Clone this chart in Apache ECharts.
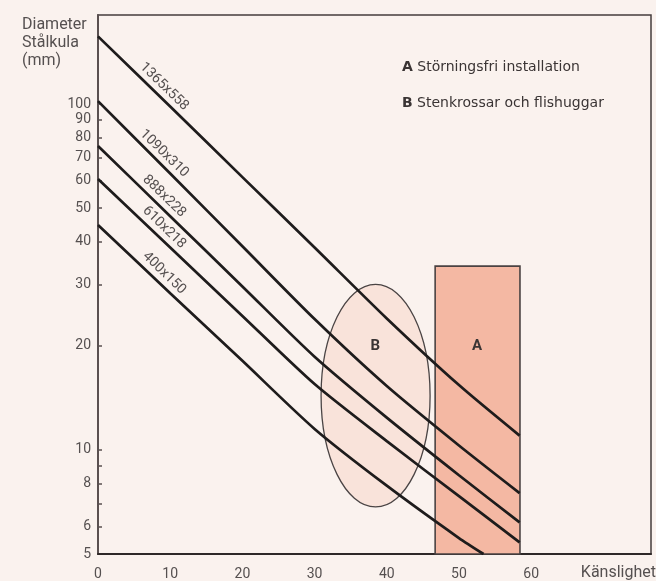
<!DOCTYPE html>
<html><head><meta charset="utf-8">
<script src="https://cdn.jsdelivr.net/npm/echarts@6/dist/echarts.min.js"></script>
<style>html,body{margin:0;padding:0;background:#faf2ee;}#c{width:656px;height:581px;}</style>
</head><body><div id="c"></div>
<script>
// Känslighet (x) sample positions
const sensitivity = [0, 10, 20, 30, 40, 50, 58.4];
const sensitivity400 = [0, 10, 20, 30, 40, 50, 53.4];
// Diameter stålkula (mm) per detector size
const d1365x558 = [157, 98.4, 61.5, 38.5, 24.0, 15.4, 11.0];
const d1090x310 = [102, 63.0, 38.8, 23.9, 15.3, 10.3, 7.5];
const d888x228  = [75.7, 47.4, 29.7, 18.6, 12.4, 8.45, 6.17];
const d610x218  = [60.7, 38.5, 24.4, 15.5, 10.6, 7.35, 5.40];
const d400x150  = [44.7, 28.4, 18.1, 11.5, 7.88, 5.56, 5.0];
const lineNames = ['1365x558', '1090x310', '888x228', '610x218', '400x150'];
// zones
const zoneA = [46.7, 58.45, 5, 34];      // x0, x1, y0, y1
const zoneB = [30.9, 46.0, 6.84, 30.1];  // ellipse bounding box
const zoneLabels = [['A', 52.5, 20], ['B', 38.4, 20]];
// axis ticks
const yLabelValues = [5, 6, 8, 10, 20, 30, 40, 50, 60, 70, 80, 90, 100];
const yTickValues = [6, 7, 8, 9, 10, 20, 30, 40, 50, 60, 70, 80, 90, 100];
const xMax = 76.6;

const FONT = 'Roboto';
const TXT = '#555050';

const allX = [sensitivity, sensitivity, sensitivity, sensitivity, sensitivity400];
const allY = [d1365x558, d1090x310, d888x228, d610x218, d400x150];

const lineSeries = allY.map((ys, i) => ({
  type: 'line', name: lineNames[i],
  data: ys.map((v, k) => [allX[i][k], v]),
  showSymbol: false, smooth: 0.25, z: 5,
  lineStyle: { color: '#1e1c1c', width: 2.7 },
  silent: true
}));

const chart = echarts.init(document.getElementById('c'), null, { renderer: 'canvas' });
chart.setOption({
  backgroundColor: '#faf2ee',
  animation: false,
  grid: { left: 98, right: 5, top: 15, bottom: 27, show: true, borderColor: '#443c3c', borderWidth: 1.5, backgroundColor: 'transparent' },
  xAxis: {
    type: 'value', min: 0, max: xMax, interval: 10,
    axisLine: { show: true, lineStyle: { color: '#2e2828', width: 2 } },
    axisTick: { show: false }, splitLine: { show: false },
    axisLabel: { color: TXT, fontSize: 14, fontFamily: FONT, margin: 13,
      formatter: v => (v <= 60 ? String(v) : '') }
  },
  yAxis: {
    type: 'log', logBase: 10, min: 5, max: 181,
    axisLine: { show: true, onZero: false, lineStyle: { color: '#5a5050', width: 2 } },
    axisTick: { show: true, inside: true, length: 4, customValues: yTickValues, lineStyle: { color: '#5a5050', width: 1.5 } },
    minorTick: { show: false },
    axisLabel: { customValues: yLabelValues, color: TXT, fontSize: 14, fontFamily: FONT, margin: 7 },
    splitLine: { show: false }
  },
  series: [
    {
      type: 'custom', z: 2, silent: true,
      data: [zoneA],
      renderItem: (params, api) => {
        const p0 = api.coord([api.value(0), api.value(3)]);
        const p1 = api.coord([api.value(1), api.value(2)]);
        return { type: 'rect', shape: { x: p0[0], y: p0[1], width: p1[0] - p0[0], height: p1[1] - p0[1] },
          style: { fill: '#f4b8a3', stroke: '#4a4242', lineWidth: 1.6 } };
      }
    },
    {
      type: 'custom', z: 2, silent: true,
      data: [zoneB],
      renderItem: (params, api) => {
        const p0 = api.coord([api.value(0), api.value(3)]);
        const p1 = api.coord([api.value(1), api.value(2)]);
        return { type: 'ellipse', shape: { cx: (p0[0] + p1[0]) / 2, cy: (p0[1] + p1[1]) / 2, rx: (p1[0] - p0[0]) / 2, ry: (p1[1] - p0[1]) / 2 },
          style: { fill: '#f9e3da', stroke: '#4a4444', lineWidth: 1.3 } };
      }
    },
    {
      type: 'custom', z: 3, silent: true,
      data: zoneLabels,
      renderItem: (params, api) => {
        const p = api.coord([api.value(1), api.value(2)]);
        return { type: 'text', x: p[0], y: p[1],
          style: { text: zoneLabels[params.dataIndex][0], fill: '#3a3434', font: 'bold 15px ' + FONT, align: 'center', verticalAlign: 'middle' } };
      }
    },
    ...lineSeries,
    {
      type: 'custom', z: 6, silent: true,
      data: allY.map((ys, i) => [allX[i][1], ys[1]]),
      renderItem: (params, api) => {
        const p = api.coord([api.value(0), api.value(1)]);
        return { type: 'text', x: p[0] - 6, y: p[1] - 20, rotation: -0.77,
          style: { x: 0, y: 0, text: lineNames[params.dataIndex], fill: TXT, font: '14px ' + FONT, align: 'center', verticalAlign: 'middle' } };
      }
    }
  ],
  graphic: [
    { type: 'text', left: 22, top: 16, style: { text: 'Diameter\nStålkula\n(mm)', fill: TXT, font: '16px ' + FONT, lineHeight: 18 } },
    { type: 'text', right: 0, top: 565, style: { text: 'Känslighet', fill: TXT, font: '16px ' + FONT } },
    { type: 'text', left: 402, top: 60, style: { text: '{b|A} Störningsfri installation', fill: '#3a3434', font: '14px "DejaVu Sans"',
        rich: { b: { fontWeight: 'bold', fontSize: 14, fontFamily: 'DejaVu Sans', fill: '#3a3434' } } } },
    { type: 'text', left: 402, top: 96, style: { text: '{b|B} Stenkrossar och flishuggar', fill: '#3a3434', font: '14px "DejaVu Sans"',
        rich: { b: { fontWeight: 'bold', fontSize: 14, fontFamily: 'DejaVu Sans', fill: '#3a3434' } } } }
  ]
});
</script></body></html>
